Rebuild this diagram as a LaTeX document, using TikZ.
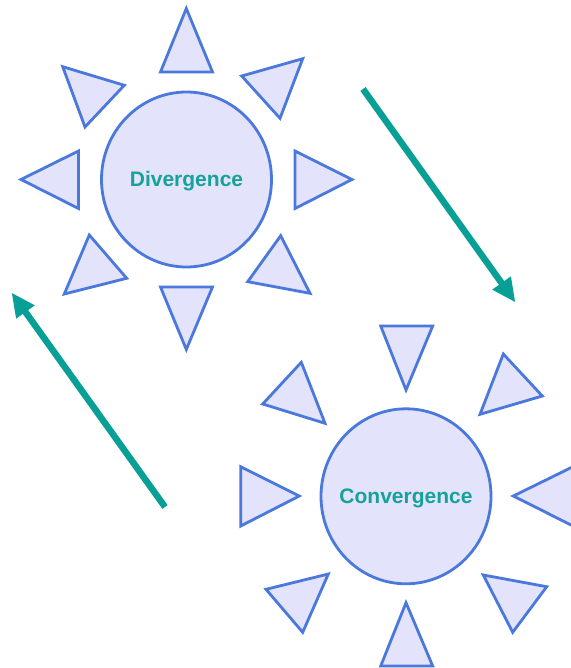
\documentclass[tikz,border=0pt]{standalone}
\usepackage{fontspec}
\setmainfont{Liberation Sans}
\usetikzlibrary{arrows.meta,shapes.geometric}
\definecolor{ray}{HTML}{4A78DC}
\definecolor{rayfill}{HTML}{E3E3FB}
\definecolor{tealc}{HTML}{08A096}
\definecolor{textc}{HTML}{16A29A}
\tikzset{
  tri/.style={draw=ray,fill=rayfill,line width=2.8pt,line join=miter},
  hub/.style={ellipse,draw=ray,fill=rayfill,line width=2.8pt,minimum width=170pt,minimum height=175pt,inner sep=0pt},
  hubtext/.style={text=textc,font=\bfseries\fontsize{21}{24}\selectfont,inner sep=0pt,yshift=-2pt},
  flow/.style={draw=tealc,line width=6.5pt,-{Triangle[length=24pt,width=21pt]}}
}
\begin{document}
\begin{tikzpicture}[x=1pt,y=-1pt]
\useasboundingbox (0,0) rectangle (570,668);
% Divergence
\node[hub,label={[hubtext]center:Divergence}] (div) at (186.5,179.5) {};
\draw[tri] (186.3,8.5) -- (212.5,72) -- (160.5,72) -- cycle;
\draw[tri] (186.3,349.5) -- (212.5,287) -- (160.5,287) -- cycle;
\draw[tri] (352,179.5) -- (295,151) -- (295,208.5) -- cycle;
\draw[tri] (21,179.5) -- (78.5,151) -- (78.5,208.5) -- cycle;
\draw[tri] (241.7,76) -- (302.7,58.7) -- (280,118.3) -- cycle;
\draw[tri] (62.7,66.7) -- (124.3,85.3) -- (85,127) -- cycle;
\draw[tri] (89.3,235) -- (126.7,278.3) -- (64.3,294) -- cycle;
\draw[tri] (280.7,235.7) -- (310,293.3) -- (247.7,281.7) -- cycle;
% Convergence
\node[hub,label={[hubtext]center:Convergence}] (conv) at (406,496.3) {};
\draw[tri] (406,390) -- (380.7,326) -- (432.7,326) -- cycle;
\draw[tri] (406,602.7) -- (380.7,666) -- (432.7,666) -- cycle;
\draw[tri] (299.3,496) -- (240.7,466.7) -- (240.7,526) -- cycle;
\draw[tri] (513.3,496) -- (573,466.7) -- (573,526) -- cycle;
\draw[tri] (301.3,362.3) -- (262.7,404) -- (325,423.3) -- cycle;
\draw[tri] (503.3,354) -- (542.3,396) -- (480,414.3) -- cycle;
\draw[tri] (328.3,574) -- (266,589.3) -- (302.7,632.3) -- cycle;
\draw[tri] (483.3,575) -- (546.7,586.7) -- (512.7,632.3) -- cycle;
% arrows
\coordinate (a1s) at (363,89);
\coordinate (a1e) at (515.5,302.5);
\coordinate (a2s) at (165,507);
\coordinate (a2e) at (11.5,292.5);
\draw[flow] (a1s) -- (a1e);
\draw[flow] (a2s) -- (a2e);
\end{tikzpicture}
\end{document}
